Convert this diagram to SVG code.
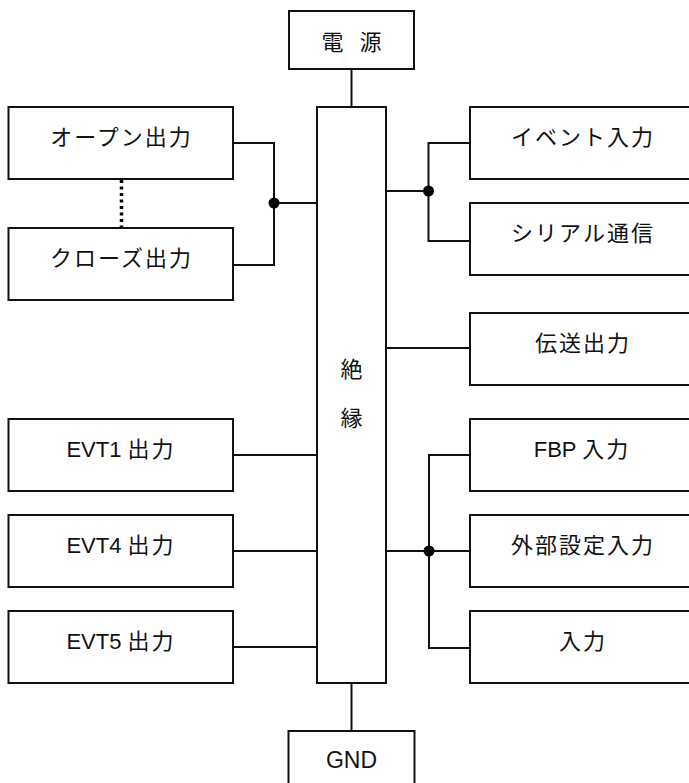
<svg xmlns="http://www.w3.org/2000/svg" width="689" height="783" viewBox="0 0 689 783">
<style>
.box{fill:#fff;stroke:#111;stroke-width:2}
.ln{fill:none;stroke:#111;stroke-width:2}
.dot{fill:#000}
text{font-family:"Liberation Sans","Noto Sans CJK JP",sans-serif;font-size:22px;fill:#111;text-anchor:middle}
.jp{letter-spacing:2px}
</style>
<rect width="689" height="783" fill="#fff"/>
<g id="connectors">
<path class="ln" d="M351.5 69V107"/>
<path class="ln" d="M351.5 683V731"/>
<path class="ln" d="M233 143H274V265H233"/>
<path class="ln" d="M274 203H317"/>
<path d="M121.5 180V228" fill="none" stroke="#000" stroke-width="3.5" stroke-dasharray="3 3.5"/>
<path class="ln" d="M386 191H428.5"/>
<path class="ln" d="M470 143H428.5V241H470"/>
<path class="ln" d="M386 348H470"/>
<path class="ln" d="M233 455H317"/>
<path class="ln" d="M233 551H317"/>
<path class="ln" d="M233 647H317"/>
<path class="ln" d="M386 551H470"/>
<path class="ln" d="M470 455H429V648H470"/>
<circle class="dot" cx="274" cy="203" r="5.5"/>
<circle class="dot" cx="428.5" cy="191" r="5.5"/>
<circle class="dot" cx="429" cy="551" r="5.5"/>
</g>
<g id="power"><rect class="box" x="289" y="11" width="125" height="58"/><text class="jp" x="352.5" y="49.5" word-spacing="6">電 源</text></g>
<g id="isolation"><rect class="box" x="317" y="107" width="69" height="576"/><text x="351.5" y="377">絶</text><text x="351.5" y="425.5">縁</text></g>
<g id="gnd"><rect class="box" x="288.5" y="731" width="126" height="72"/><text x="351.5" y="768" style="font-size:23px">GND</text></g>
<g id="open-out"><rect class="box" x="8.5" y="107" width="224.5" height="72"/><text class="jp" x="121.5" y="144.5">オープン出力</text></g>
<g id="close-out"><rect class="box" x="8.5" y="228" width="224.5" height="72"/><text class="jp" x="121.5" y="265.5">クローズ出力</text></g>
<g id="evt1-out"><rect class="box" x="8.5" y="419" width="224.5" height="72"/><text x="121" y="456.5">EVT1 <tspan class="jp">出力</tspan></text></g>
<g id="evt4-out"><rect class="box" x="8.5" y="515" width="224.5" height="72"/><text x="121" y="552.5">EVT4 <tspan class="jp">出力</tspan></text></g>
<g id="evt5-out"><rect class="box" x="8.5" y="611" width="224.5" height="72"/><text x="121" y="648.5">EVT5 <tspan class="jp">出力</tspan></text></g>
<g id="event-in"><rect class="box" x="470" y="107" width="224" height="72"/><text class="jp" x="583" y="145">イベント入力</text></g>
<g id="serial"><rect class="box" x="470" y="203" width="224" height="72"/><text class="jp" x="583" y="241">シリアル通信</text></g>
<g id="trans-out"><rect class="box" x="470" y="313" width="224" height="72"/><text class="jp" x="583" y="350.5">伝送出力</text></g>
<g id="fbp-in"><rect class="box" x="470" y="419" width="224" height="72"/><text x="582" y="456.5">FBP <tspan class="jp">入力</tspan></text></g>
<g id="ext-set-in"><rect class="box" x="470" y="515" width="224" height="72"/><text class="jp" x="583" y="552.5">外部設定入力</text></g>
<g id="in"><rect class="box" x="470" y="611" width="224" height="72"/><text class="jp" x="583" y="648.5">入力</text></g>
</svg>
